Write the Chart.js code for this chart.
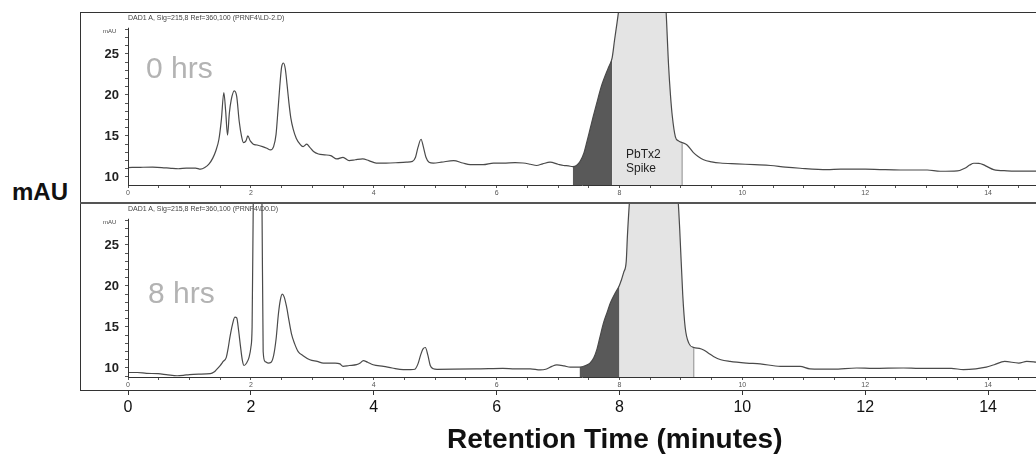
<!DOCTYPE html>
<html>
<head>
<meta charset="utf-8">
<title>PbTx2 chromatograms</title>
<script src="https://cdn.jsdelivr.net/npm/chart.js@4.4.1/dist/chart.umd.min.js"></script>
<style>
  body { margin: 0; background: #fff; font-family: Arial, "Liberation Sans", sans-serif; }
  #page { position: relative; width: 1036px; height: 455px; overflow: hidden; }
  #page canvas { position: absolute; left: 80px; }
  #frame { position: absolute; left: 80px; top: 12px; width: 970px; height: 377px;
           border-left: 1px solid #333; border-top: 1px solid #333; border-bottom: 1px solid #333; }
  #sep { position: absolute; left: 80px; top: 202px; width: 970px; height: 2px; background: #555; }
  .txt { position: absolute; white-space: nowrap; line-height: 1; }
  .hdr { font-size: 7px; color: #444; }
  .small { font-size: 6px; color: #444; }
  .hrs { font-size: 30px; color: #b3b3b3; }
</style>
</head>
<body>
<div id="page">
  <canvas id="chart0" width="956" height="191" style="top:12px"></canvas>
  <canvas id="chart8" width="956" height="252" style="top:203px"></canvas>
  <div id="frame"></div>
  <div id="sep"></div>

  <div class="txt" style="left:12px;top:180px;font-size:24px;font-weight:bold;color:#111">mAU</div>
  <div class="txt small" style="left:103px;top:28px">mAU</div>
  <div class="txt small" style="left:103px;top:219px">mAU</div>
  <div class="txt hdr" style="left:128px;top:14px">DAD1 A, Sig=215,8 Ref=360,100 (PRNF4\LD-2.D)</div>
  <div class="txt hdr" style="left:128px;top:205px">DAD1 A, Sig=215,8 Ref=360,100 (PRNF4\D0.D)</div>
  <div class="txt hrs" style="left:146px;top:53px">0 hrs</div>
  <div class="txt hrs" style="left:148px;top:278px">8 hrs</div>
  <div class="txt" style="left:626px;top:147px;font-size:12px;line-height:14px;color:#222">PbTx2<br>Spike</div>
  <div class="txt" style="left:447px;top:425px;font-size:28px;font-weight:bold;color:#111">Retention Time (minutes)</div>
</div>

<script>
// 0 hrs trace (minutes, mAU)
const times0 = [0.00, 0.20, 0.40, 0.55, 0.70, 0.82, 0.95, 1.10, 1.18, 1.25, 1.32, 1.38, 1.43, 1.48, 1.52,
  1.56, 1.59, 1.62, 1.65, 1.68, 1.73, 1.77, 1.81, 1.85, 1.88, 1.92, 1.95, 1.99, 2.04, 2.10, 2.19, 2.26,
  2.32, 2.37, 2.41, 2.44, 2.47, 2.50, 2.53, 2.56, 2.59, 2.62, 2.65, 2.69, 2.74, 2.80, 2.85, 2.91, 2.96,
  3.02, 3.10, 3.20, 3.30, 3.40, 3.50, 3.60, 3.70, 3.82, 3.92, 4.04, 4.20, 4.40, 4.53, 4.63, 4.68, 4.72,
  4.77, 4.81, 4.85, 4.90, 4.97, 5.10, 5.30, 5.45, 5.57, 5.78, 5.95, 6.11, 6.30, 6.43, 6.55, 6.65, 6.75,
  6.87, 7.00, 7.09, 7.17, 7.24, 7.30, 7.36, 7.42, 7.47, 7.52, 7.57, 7.63, 7.68, 7.72, 7.78, 7.83, 7.88,
  7.92, 7.96, 8.00, 8.05, 8.20, 8.50, 8.70, 8.75, 8.80, 8.83, 8.86, 8.91, 8.96, 9.02, 9.10, 9.20, 9.28,
  9.37, 9.50, 9.64, 9.91, 10.20, 10.46, 10.70, 10.94, 11.38, 11.60, 12.00, 12.24, 12.57, 13.01, 13.22,
  13.50, 13.63, 13.70, 13.77, 13.85, 13.92, 14.00, 14.09, 14.31, 14.55, 14.80];
const mau0 = [11.15, 11.18, 11.20, 11.15, 11.05, 11.00, 11.08, 11.08, 10.95, 11.15, 11.60, 12.30, 13.20, 14.60, 17.00,
  20.30, 18.00, 15.10, 17.80, 19.40, 20.50, 19.80, 16.80, 14.90, 14.20, 14.40, 15.00, 14.40, 14.00, 13.90, 13.70, 13.50,
  13.30, 13.70, 15.20, 18.00, 21.00, 23.40, 23.90, 23.20, 21.20, 19.00, 17.20, 15.80, 14.70, 14.00, 13.70, 14.00, 13.60,
  13.10, 12.80, 12.70, 12.60, 12.20, 12.40, 12.00, 12.10, 12.20, 12.00, 11.70, 11.70, 11.75, 11.80, 11.90, 12.40, 13.60,
  14.60, 13.60, 12.40, 11.80, 11.70, 11.80, 12.00, 11.70, 11.50, 11.50, 11.70, 11.70, 11.75, 11.70, 11.55, 11.40, 11.60,
  11.80, 11.55, 11.40, 11.35, 11.26, 11.40, 11.90, 12.90, 14.30, 15.80, 17.30, 19.00, 20.40, 21.40, 22.60, 23.50, 24.50,
  26.70, 28.80, 31.00, 34.00, 38.00, 39.00, 36.00, 31.50, 23.50, 20.00, 17.40, 14.90, 14.40, 14.20, 13.90, 13.00, 12.50,
  12.10, 11.85, 11.70, 11.60, 11.50, 11.40, 11.20, 11.06, 10.90, 10.95, 10.95, 10.90, 10.85, 10.85, 10.70,
  10.75, 11.10, 11.45, 11.67, 11.65, 11.50, 11.20, 10.90, 10.75, 10.72, 10.70];

// 8 hrs trace (minutes, mAU)
const times8 = [0.00, 0.15, 0.30, 0.49, 0.65, 0.80, 0.90, 1.00, 1.15, 1.34, 1.40, 1.44, 1.50, 1.55, 1.60,
  1.63, 1.66, 1.70, 1.74, 1.77, 1.80, 1.83, 1.86, 1.89, 1.93, 1.97, 2.00, 2.02, 2.04, 2.06, 2.15, 2.18,
  2.20, 2.23, 2.28, 2.33, 2.37, 2.41, 2.45, 2.48, 2.51, 2.54, 2.58, 2.62, 2.66, 2.71, 2.77, 2.85, 2.96,
  3.08, 3.18, 3.30, 3.37, 3.45, 3.50, 3.60, 3.72, 3.78, 3.83, 3.90, 3.99, 4.16, 4.30, 4.48, 4.60, 4.67,
  4.72, 4.76, 4.80, 4.84, 4.88, 4.92, 4.97, 5.03, 5.30, 5.74, 6.10, 6.30, 6.55, 6.71, 6.80, 6.90, 6.98,
  7.10, 7.20, 7.35, 7.45, 7.52, 7.58, 7.63, 7.68, 7.74, 7.80, 7.85, 7.92, 8.00, 8.07, 8.11, 8.13, 8.17,
  8.25, 8.60, 8.90, 8.95, 8.98, 9.03, 9.07, 9.13, 9.21, 9.30, 9.37, 9.45, 9.53, 9.65, 9.80, 10.07, 10.29,
  10.62, 10.94, 11.10, 11.48, 11.86, 12.13, 12.62, 12.88, 13.40, 13.60, 13.80, 13.97, 14.10, 14.27, 14.50,
  14.63, 14.80];
const mau8 = [9.45, 9.45, 9.35, 9.30, 9.15, 9.05, 9.10, 9.20, 9.25, 9.30, 9.50, 9.80, 10.30, 10.80, 11.30,
  12.40, 13.80, 15.30, 16.20, 16.10, 14.60, 12.70, 11.00, 10.30, 10.60, 11.30, 12.50, 15.00, 31.00, 40.00, 40.00, 31.00,
  12.00, 10.80, 10.60, 10.70, 11.50, 13.50, 16.70, 18.30, 19.00, 18.70, 17.50, 15.80, 14.20, 13.00, 12.00, 11.50, 11.00,
  10.80, 10.60, 10.60, 10.60, 10.50, 10.20, 10.30, 10.40, 10.60, 10.90, 10.70, 10.40, 10.20, 10.00, 9.80, 9.80, 9.85,
  10.50, 11.50, 12.30, 12.50, 11.60, 10.30, 9.90, 9.84, 9.85, 9.90, 9.95, 9.90, 9.90, 9.76, 9.85, 10.20, 10.37,
  10.25, 10.10, 10.10, 10.30, 10.60, 11.20, 12.20, 13.70, 15.50, 16.80, 17.90, 19.00, 20.10, 21.70, 23.00, 26.20, 31.00,
  36.00, 38.00, 34.00, 31.00, 27.00, 18.90, 14.90, 13.00, 12.50, 12.40, 12.20, 11.80, 11.40, 11.00, 10.80, 10.60, 10.50,
  10.20, 10.20, 9.90, 9.85, 10.00, 9.95, 10.00, 9.95, 9.95, 9.80, 9.90, 10.10, 10.40, 10.80, 10.60,
  10.80, 10.70];

// shaded spike regions: [dark start, light start, light end] in minutes
const spike0 = [7.24, 7.88, 9.02];
const spike8 = [7.35, 8.00, 9.21];

const xRange = [0, 14.78];
const yRange0 = [9.02, 30.12];
const yRange8 = [8.9, 30.12];
const yTickLabels = [10, 15, 20, 25];
const yAxisTop = 28.2;

Chart.defaults.font.family = 'Arial, "Liberation Sans", sans-serif';

const points = (times, vals) => times.map((t, i) => ({ x: t, y: vals[i] }));
const between = (pts, a, b) => pts.filter(p => p.x >= a - 1e-9 && p.x <= b + 1e-9);

// y axis line only runs up to yAxisTop, like the instrument printout
const axisLine = {
  id: 'axisLine',
  afterDraw(chart) {
    const y = chart.scales.y, area = chart.chartArea, ctx = chart.ctx;
    ctx.save();
    ctx.strokeStyle = '#333';
    ctx.lineWidth = 1;
    ctx.beginPath();
    ctx.moveTo(area.left + 0.5, y.getPixelForValue(yAxisTop));
    ctx.lineTo(area.left + 0.5, area.bottom);
    ctx.stroke();
    ctx.restore();
  }
};

function makePanel(id, times, vals, spike, yRange, bottom) {
  const pts = points(times, vals);
  const edgeY = vals[times.indexOf(spike[2])];

  const scales = {
    x: {
      type: 'linear', min: xRange[0], max: xRange[1], position: 'bottom', weight: 0,
      border: { display: true, color: '#333', width: 1 },
      grid: { drawOnChartArea: false, tickLength: 3, color: '#555' },
      ticks: {
        stepSize: 0.5, includeBounds: false, autoSkip: false, maxRotation: 0, padding: 1,
        font: { size: 7 }, color: '#555',
        callback: v => (Math.abs(v % 2) < 1e-6 ? String(v) : '')
      },
      afterFit: s => { s.height = bottom ? 13 : 18; s.paddingLeft = 0; s.paddingRight = 0; }
    },
    y: {
      min: yRange[0], max: yRange[1],
      border: { display: false },
      grid: {
        drawOnChartArea: false, tickLength: 3,
        color: c => (c.tick && c.tick.value <= yAxisTop ? '#555' : 'rgba(0,0,0,0)')
      },
      ticks: {
        stepSize: 1, includeBounds: false, autoSkip: false, padding: 6,
        font: { size: 13, weight: 'bold' }, color: '#222',
        callback: v => (yTickLabels.includes(Math.round(v)) && Math.abs(v - Math.round(v)) < 1e-6 ? String(Math.round(v)) : '')
      },
      afterFit: s => { s.width = 48; s.paddingTop = 0; s.paddingBottom = 0; }
    }
  };

  if (bottom) {
    scales.x2 = {
      type: 'linear', min: xRange[0], max: xRange[1], position: 'bottom', weight: 1,
      border: { display: false },
      grid: { drawOnChartArea: false, tickLength: 5, color: '#333' },
      ticks: { stepSize: 2, includeBounds: false, maxRotation: 0, padding: 3, font: { size: 16 }, color: '#111' },
      afterFit: s => { s.height = 65; s.paddingLeft = 0; s.paddingRight = 0; }
    };
  }

  return new Chart(document.getElementById(id), {
    type: 'line',
    data: {
      datasets: [
        { data: pts, borderColor: '#4a4a4a', borderWidth: 1.2, fill: false, cubicInterpolationMode: 'monotone' },
        { data: [{ x: spike[2], y: yRange[0] }, { x: spike[2], y: edgeY }], borderColor: '#8c8c8c', borderWidth: 1, fill: false },
        { data: between(pts, spike[0], spike[1]), borderWidth: 0, backgroundColor: '#595959', fill: 'start', cubicInterpolationMode: 'monotone' },
        { data: between(pts, spike[1], spike[2]), borderWidth: 0, backgroundColor: '#e4e4e4', fill: 'start', cubicInterpolationMode: 'monotone' }
      ]
    },
    options: {
      responsive: false,
      animation: false,
      layout: { padding: 0 },
      elements: { point: { radius: 0 } },
      plugins: { legend: { display: false }, tooltip: { enabled: false } },
      scales
    },
    plugins: [axisLine]
  });
}

makePanel('chart0', times0, mau0, spike0, yRange0, false);
makePanel('chart8', times8, mau8, spike8, yRange8, true);
</script>
</body>
</html>
